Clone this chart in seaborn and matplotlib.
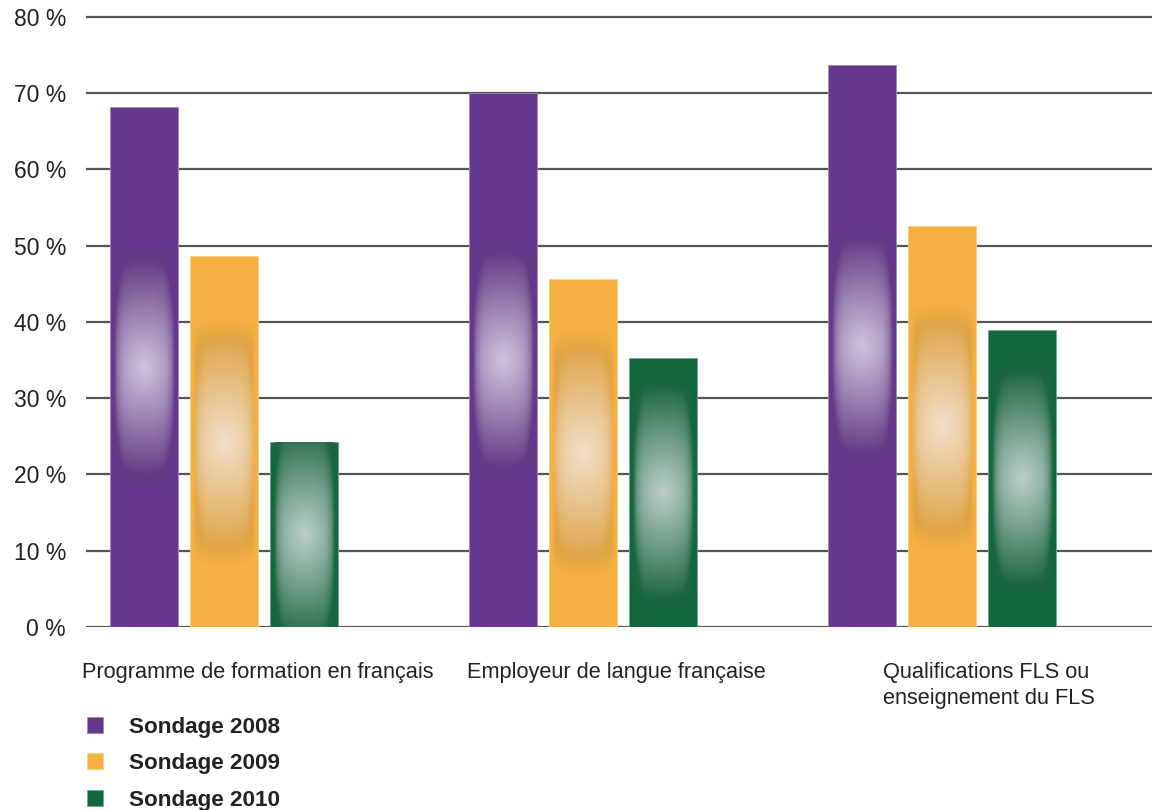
import numpy as np
import pandas as pd
import matplotlib
matplotlib.use("Agg")
import matplotlib.pyplot as plt
from matplotlib.colors import to_rgb
from matplotlib.lines import Line2D
from matplotlib.ticker import FuncFormatter, MultipleLocator
import seaborn as sns

# --- data -----------------------------------------------------------------
questions = [
    "Programme de formation en français",
    "Employeur de langue française",
    "Qualifications FLS ou\nenseignement du FLS",
]
surveys = ["Sondage 2008", "Sondage 2009", "Sondage 2010"]
pct_2008 = [68.2, 70.0, 73.7]
pct_2009 = [48.6, 45.6, 52.6]
pct_2010 = [24.3, 35.3, 39.0]
colors = ["#65378d", "#f5b041", "#12683e"]

df = pd.DataFrame({
    "question": questions * 3,
    "sondage": [s for s in surveys for _ in questions],
    "pct": pct_2008 + pct_2009 + pct_2010,
})

# --- style ----------------------------------------------------------------
sns.set_style("white")
plt.rcParams["font.family"] = ["Liberation Sans", "DejaVu Sans"]
text_color = "#222222"
grid_color = "#555555"

fig = plt.figure(figsize=(11.52, 8.10), dpi=100)
ax = fig.add_axes([86 / 1152, 1 - 627 / 810, 1 - 86 / 1152, (627 - 14.7) / 810])

sns.barplot(
    data=df, x="question", y="pct", hue="sondage",
    order=questions, hue_order=surveys, palette=colors,
    width=0.6685, gap=0.15, saturation=1, errorbar=None,
    legend=False, ax=ax,
)


def glow_image(base, ny=260, nx=90):
    """Soft elongated highlight used on the face of each bar."""
    base = np.array(to_rgb(base))
    u = np.linspace(-1, 1, nx)
    v = np.linspace(-1, 1, ny)
    U, V = np.meshgrid(u, v)
    au = np.abs(U)
    rr = np.sqrt((0.35 * U) ** 2 + V ** 2)
    light = base * 0.24 + 0.76 * np.array([0.94, 0.93, 0.95])
    dark = base * 0.85 + 0.15 * 0.36
    edge = 0.45 * np.clip((au - 0.55) / 0.45, 0, 1) ** 2
    t = np.clip(np.clip(rr / 0.86, 0, 1) ** 1.05 + edge, 0, 1)
    col = light[None, None, :] * (1 - t[..., None]) + dark[None, None, :] * t[..., None]
    alpha = np.clip((1.0 - rr) / 0.2, 0, 1) * np.clip((1.0 - au) / 0.12, 0, 1)
    return np.dstack([col, alpha])


# highlight + thin light outline on every bar
for patch, base in zip(ax.patches, [c for c in colors for _ in questions]):
    x0, y0 = patch.get_x(), patch.get_y()
    w, h = patch.get_width(), patch.get_height()
    edge = np.array(to_rgb(base)) * 0.6 + 0.4
    patch.set_edgecolor(edge)
    patch.set_linewidth(0.6)
    cy = y0 + h / 2
    half_h = 16.5
    inset = w * 0.04
    im = ax.imshow(
        glow_image(base), extent=(x0 + inset, x0 + w - inset, cy - half_h, cy + half_h),
        aspect="auto", interpolation="bilinear", zorder=patch.get_zorder() + 0.1,
    )
    im.set_clip_path(patch)

# --- axes -----------------------------------------------------------------
ax.set_xlim(-0.3844, 2.585)
ax.set_ylim(0, 80.3)
ax.yaxis.set_major_locator(MultipleLocator(10))
ax.yaxis.set_major_formatter(FuncFormatter(lambda v, _: f"{v:.0f} %"))
ax.yaxis.grid(True, color=grid_color, linewidth=1.6)
ax.xaxis.grid(False)
ax.set_axisbelow(True)
for s in ax.spines.values():
    s.set_visible(False)

ax.tick_params(axis="y", length=0, pad=14.4, labelsize=16.5, labelcolor=text_color)
ax.set_xticks([])
ax.set_xticks([0.6045, 1.6128], minor=True)
ax.tick_params(axis="x", which="minor", length=11, width=1.4, color=grid_color,
               direction="out")
ax.set_xlabel("")
ax.set_ylabel("")

# category labels, left-aligned under each group
label_x = [-0.3955, 0.677, 1.8357]
for lx, q in zip(label_x, questions):
    ax.annotate(q, xy=(lx, 0), xycoords=("data", "axes fraction"),
                xytext=(0, -25), textcoords="offset points",
                ha="left", va="top", fontsize=15.7, color=text_color,
                linespacing=1.3, annotation_clip=False)

# legend
handles = [
    Line2D([], [], marker="s", linestyle="none", markersize=11.5,
           markerfacecolor=c, markeredgecolor=np.array(to_rgb(c)) * 0.6 + 0.4,
           markeredgewidth=0.6)
    for c in colors
]
leg = fig.legend(
    handles, surveys, loc="upper left", bbox_to_anchor=(84 / 1152, 1 - 717 / 810),
    frameon=False, borderpad=0, borderaxespad=0, handlelength=1.0,
    handletextpad=1.02, labelspacing=0.68,
    prop={"size": 16.2, "weight": "bold"},
)
for t in leg.get_texts():
    t.set_color(text_color)

fig.savefig("out.png", dpi=100)
